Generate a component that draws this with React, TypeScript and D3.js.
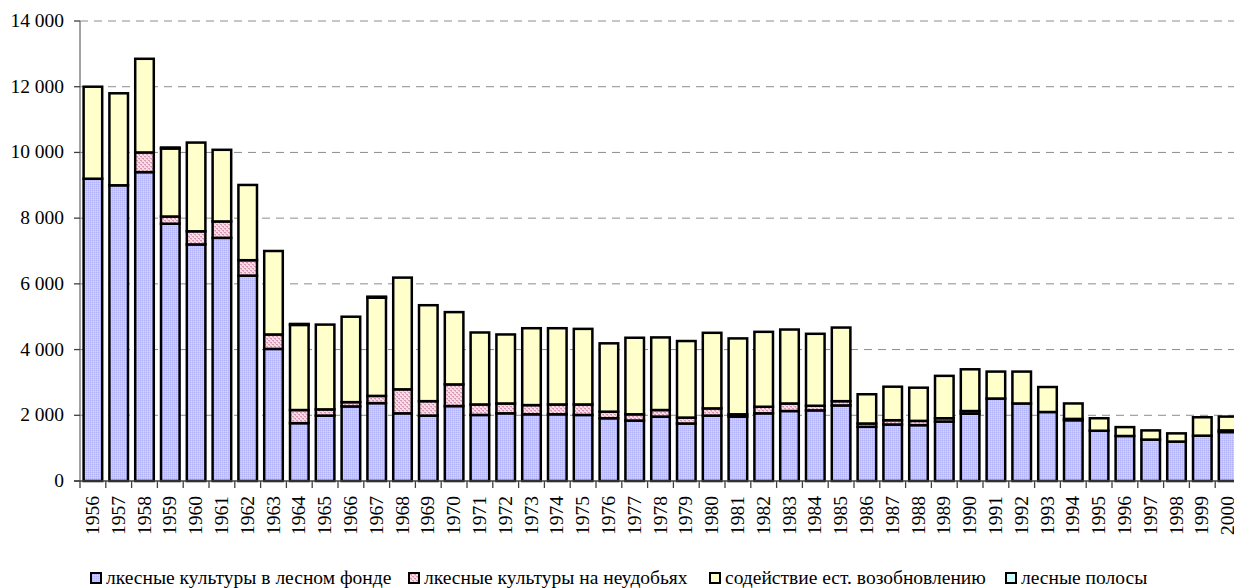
import React from "react";
import * as d3 from "d3";

const years = [
  "1956","1957","1958","1959","1960","1961","1962","1963","1964","1965",
  "1966","1967","1968","1969","1970","1971","1972","1973","1974","1975",
  "1976","1977","1978","1979","1980","1981","1982","1983","1984","1985",
  "1986","1987","1988","1989","1990","1991","1992","1993","1994","1995",
  "1996","1997","1998","1999","2000",
];

const forestFund = [
  9200, 9000, 9400, 7830, 7200, 7400, 6250, 4020, 1760, 1990,
  2270, 2370, 2060, 1990, 2280, 2010, 2060, 2030, 2030, 2010,
  1910, 1840, 1960, 1750, 1990, 1960, 2060, 2130, 2150, 2300,
  1650, 1720, 1700, 1810, 2050, 2510, 2360, 2100, 1850, 1530,
  1370, 1260, 1200, 1380, 1490,
];

const wasteLands = [
  0, 0, 600, 220, 400, 500, 470, 440, 400, 190,
  130, 220, 730, 440, 660, 320, 300, 280, 300, 320,
  200, 190, 200, 180, 220, 70, 200, 230, 140, 130,
  100, 130, 130, 100, 80, 0, 0, 0, 40, 0,
  0, 0, 0, 0, 50,
];

const naturalRegen = [
  2800, 2800, 2850, 2070, 2700, 2180, 2290, 2540, 2590, 2580,
  2600, 2990, 3400, 2920, 2200, 2190, 2100, 2340, 2320, 2300,
  2080, 2330, 2210, 2330, 2300, 2310, 2280, 2250, 2190, 2240,
  890, 1020, 1010, 1290, 1270, 820, 970, 760, 470, 380,
  270, 280, 250, 560, 420,
];

const shelterbelts = [
  0, 0, 0, 30, 0, 0, 0, 0, 30, 0,
  0, 30, 0, 0, 0, 0, 0, 0, 0, 0,
  0, 0, 0, 0, 0, 0, 0, 0, 0, 0,
  0, 0, 0, 0, 0, 0, 0, 0, 0, 0,
  0, 0, 0, 0, 0,
];

const seriesNames = [
  "лкесные культуры в лесном фонде",
  "лкесные культуры на неудобьях",
  "содействие ест. возобновлению",
  "лесные полосы",
];

const yTicks = [0, 2000, 4000, 6000, 8000, 10000, 12000, 14000];

const W = 1234;
const H = 588;
const FONT = "'Liberation Serif', serif";
const FS = 19.5;

export default function App() {
  const keys = ["a", "b", "c", "d"];
  const rows = years.map((y, i) => ({
    year: y,
    a: forestFund[i],
    b: wasteLands[i],
    c: naturalRegen[i],
    d: shelterbelts[i],
  }));
  const stacked = d3.stack<any>().keys(keys)(rows);

  const x = d3
    .scaleBand<string>()
    .domain(years)
    .range([80, 1241])
    .paddingInner(0.28)
    .paddingOuter(0.14);
  const step = x.step();
  const x0 = 80;
  const y = d3.scaleLinear().domain([0, 14000]).range([481, 21]);

  const fills = ["url(#patBlue)", "url(#patPink)", "#ffffcc", "#ccffff"];
  const fmt = (v: number) => d3.format(",")(v).replace(/,/g, " ");

  const legendX = [90, 408, 709, 1005];
  const txtStyle = { fontFamily: FONT, fontSize: FS + "px" } as React.CSSProperties;

  return (
    <svg
      width={W}
      height={H}
      style={{ position: "absolute", left: 0, top: 0, background: "#fff" }}
    >
      <defs>
        <pattern id="patBlue" width="2" height="2" patternUnits="userSpaceOnUse">
          <rect width="2" height="2" fill="#c4c4ff" />
          <rect width="1" height="1" fill="#b2b2f8" />
          <rect x="1" y="1" width="1" height="1" fill="#d2d2ff" />
        </pattern>
        <pattern id="patPink" width="4" height="4" patternUnits="userSpaceOnUse">
          <rect width="4" height="4" fill="#f6dce6" />
          <rect width="2" height="1" fill="#d898b4" />
          <rect x="2" y="2" width="2" height="1" fill="#d898b4" />
          <rect x="1" y="1" width="1" height="1" fill="#e4b0c4" />
          <rect x="3" y="3" width="1" height="1" fill="#e4b0c4" />
        </pattern>
      </defs>

      {yTicks
        .filter((t) => t > 0)
        .map((t) => (
          <line
            key={"g" + t}
            x1={x0}
            x2={1241}
            y1={y(t)}
            y2={y(t)}
            stroke="#8c8c8c"
            strokeWidth={1}
            strokeDasharray="8,6"
          />
        ))}

      {stacked.map((s, si) =>
        s.map((d, i) => {
          const h = y(d[0]) - y(d[1]);
          if (h <= 0) return null;
          return (
            <rect
              key={si + "-" + i}
              x={x(years[i])}
              y={y(d[1])}
              width={x.bandwidth()}
              height={h}
              fill={fills[si]}
              stroke="#000"
              strokeWidth={2.5}
            />
          );
        })
      )}

      <line x1={x0} x2={x0} y1={y(14000)} y2={y(0)} stroke="#707070" strokeWidth={1.3} />
      {yTicks.map((t) => (
        <g key={"t" + t}>
          <line x1={x0 - 6} x2={x0} y1={y(t)} y2={y(t)} stroke="#404040" strokeWidth={1.3} />
          <text x={64} y={y(t) + 6} textAnchor="end" style={txtStyle} fill="#000">
            {fmt(t)}
          </text>
        </g>
      ))}

      <line x1={x0 - 6} x2={1241} y1={y(0)} y2={y(0)} stroke="#404040" strokeWidth={1.3} />
      {d3.range(years.length + 1).map((i) => (
        <line
          key={"xt" + i}
          x1={x0 + i * step}
          x2={x0 + i * step}
          y1={y(0)}
          y2={y(0) + 7}
          stroke="#404040"
          strokeWidth={1.3}
        />
      ))}
      {years.map((yr) => {
        const cx = (x(yr) as number) + x.bandwidth() / 2 + 6;
        const cy = 496;
        return (
          <text
            key={"xl" + yr}
            transform={`translate(${cx},${cy}) rotate(-90)`}
            textAnchor="end"
            style={txtStyle}
            fill="#000"
          >
            {yr}
          </text>
        );
      })}

      {seriesNames.map((name, i) => (
        <g key={"lg" + i}>
          <rect
            x={legendX[i] + 1}
            y={573}
            width={10}
            height={10}
            fill={fills[i]}
            stroke="#000"
            strokeWidth={2}
          />
          <text x={legendX[i] + 16} y={584} style={txtStyle} fill="#000">
            {name}
          </text>
        </g>
      ))}
    </svg>
  );
}
